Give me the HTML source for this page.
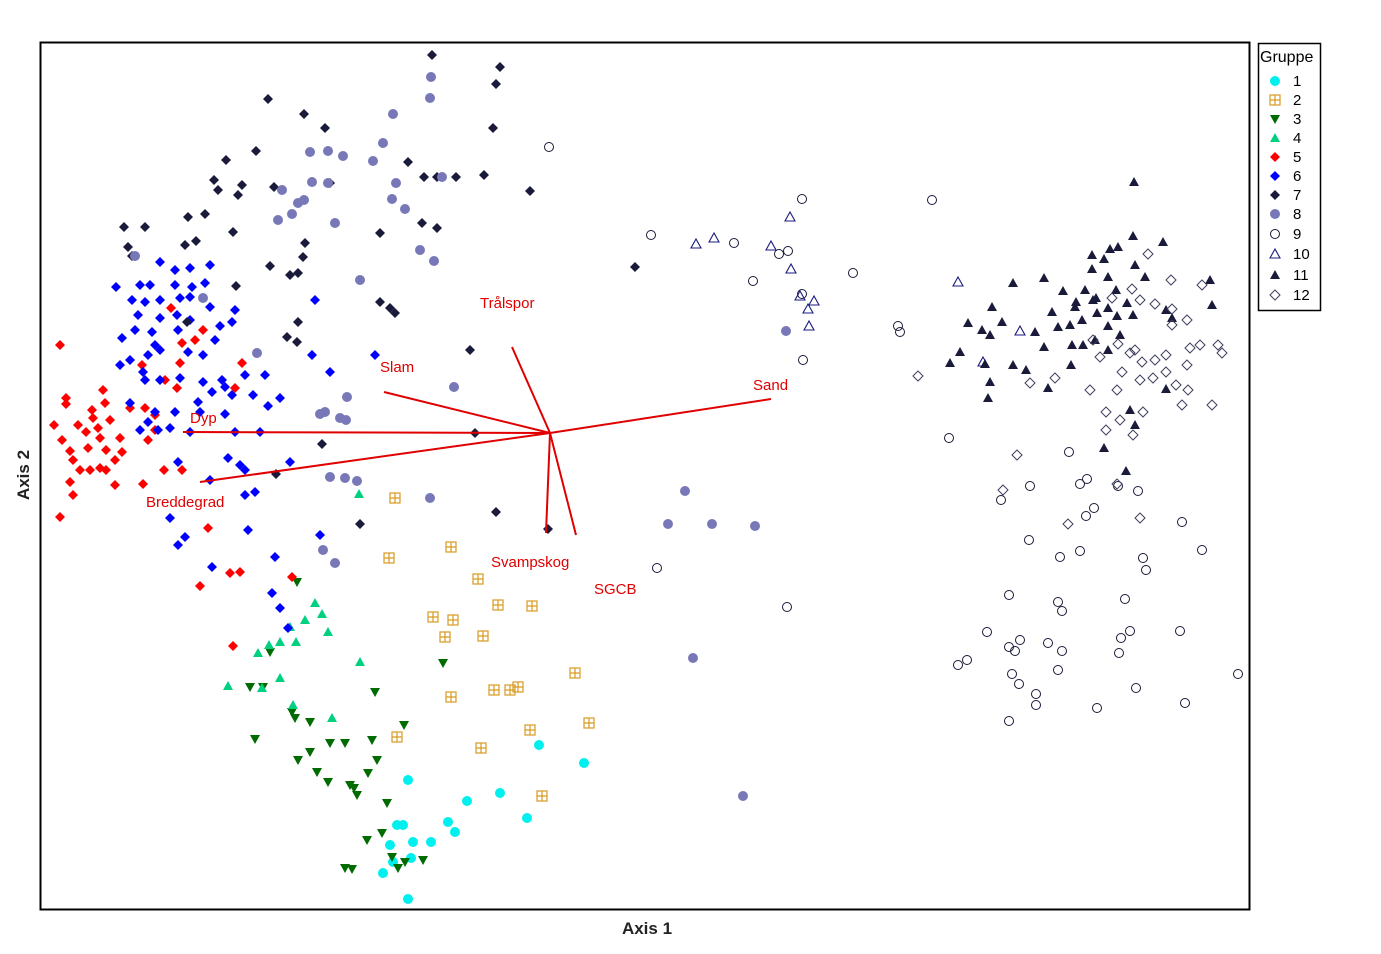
<!DOCTYPE html>
<html><head><meta charset="utf-8"><style>
html,body{margin:0;padding:0;background:#fff;}
svg{display:block;font-family:"Liberation Sans",Arial,sans-serif;}
</style></head><body>
<svg id="s" width="1381" height="954" xmlns="http://www.w3.org/2000/svg">
<rect x="0" y="0" width="1381" height="954" fill="#fff"/>
<rect x="40.5" y="42.5" width="1209" height="867" fill="none" stroke="#000" stroke-width="2"/>
<g id="pts"></g>
<g stroke="#e00000" stroke-width="2" fill="none">
<line x1="550" y1="433" x2="512" y2="347"/>
<line x1="550" y1="433" x2="384" y2="392"/>
<line x1="550" y1="433" x2="771" y2="399"/>
<line x1="550" y1="433" x2="183" y2="432"/>
<line x1="550" y1="433" x2="200" y2="482"/>
<line x1="550" y1="433" x2="546" y2="533"/>
<line x1="550" y1="433" x2="576" y2="535"/>
</g>
<g fill="#e00000" font-size="15">
<text x="480" y="308">Trålspor</text>
<text x="380" y="372">Slam</text>
<text x="753" y="390">Sand</text>
<text x="190" y="423">Dyp</text>
<text x="146" y="507">Breddegrad</text>
<text x="491" y="567">Svampskog</text>
<text x="594" y="594">SGCB</text>
</g>
<text x="647" y="934" font-size="17" font-weight="bold" text-anchor="middle" fill="#222">Axis 1</text>
<text x="0" y="0" font-size="17" font-weight="bold" text-anchor="middle" fill="#222" transform="translate(29,475) rotate(-90)">Axis 2</text>
<rect x="1258.5" y="43.5" width="62" height="267" fill="#fff" stroke="#000" stroke-width="1.5"/>
<text x="1260" y="62" font-size="16" fill="#000">Gruppe</text>
<g id="leg" font-size="15" fill="#000"></g>
</svg>
<script>
var G={
1:[[539,745],[584,763],[500,793],[467,801],[527,818],[448,822],[455,832],[431,842],[408,780],[397,825],[403,825],[413,842],[393,862],[411,858],[383,873],[408,899],[390,845]],
2:[[395,498],[451,547],[389,558],[478,579],[498,605],[532,606],[433,617],[453,620],[445,637],[483,636],[575,673],[451,697],[494,690],[510,690],[518,687],[589,723],[530,730],[397,737],[481,748],[542,796]],
3:[[297,582],[443,663],[270,652],[250,687],[263,687],[292,712],[295,718],[310,722],[375,692],[404,725],[255,739],[330,743],[345,743],[372,740],[310,752],[298,760],[317,772],[377,760],[368,773],[328,782],[350,785],[357,795],[354,788],[387,803],[367,840],[382,833],[392,857],[423,860],[405,862],[345,868],[352,869],[398,868]],
4:[[359,494],[315,603],[305,620],[322,614],[328,632],[290,627],[296,642],[269,645],[280,642],[258,653],[360,662],[228,686],[280,678],[262,688],[293,705],[332,718]],
5:[[60,345],[171,308],[203,330],[182,343],[195,340],[142,365],[180,363],[242,363],[66,398],[103,390],[66,404],[105,403],[92,410],[54,425],[78,425],[93,418],[98,428],[110,420],[86,432],[100,438],[62,440],[120,438],[122,452],[70,451],[88,448],[106,450],[115,460],[73,460],[100,468],[90,470],[106,470],[70,482],[80,470],[115,485],[143,484],[73,495],[60,517],[130,408],[145,408],[155,415],[165,380],[177,388],[182,470],[164,470],[235,388],[208,528],[240,572],[230,573],[200,586],[233,646],[292,577],[155,430],[148,440]],
6:[[210,265],[160,262],[175,270],[190,268],[140,285],[150,285],[175,285],[192,287],[205,283],[116,287],[132,300],[145,302],[160,300],[190,297],[180,298],[210,307],[235,310],[138,315],[160,318],[177,315],[190,320],[220,326],[232,322],[135,330],[152,332],[178,330],[215,340],[122,338],[155,345],[160,350],[148,355],[188,352],[203,355],[130,360],[120,365],[143,372],[160,380],[145,380],[180,378],[203,382],[222,380],[245,375],[265,375],[198,402],[225,387],[232,395],[212,392],[253,395],[268,406],[280,398],[130,403],[155,412],[148,422],[175,412],[200,412],[225,414],[170,428],[190,432],[235,432],[260,432],[140,430],[158,430],[178,462],[228,458],[240,465],[245,470],[290,462],[210,480],[245,495],[255,492],[170,518],[185,537],[178,545],[248,530],[212,567],[275,557],[272,593],[320,535],[315,300],[312,355],[330,372],[375,355],[280,608],[288,628]],
7:[[432,55],[500,67],[496,84],[268,99],[304,114],[325,128],[493,128],[256,151],[226,160],[408,162],[424,177],[437,177],[456,177],[484,175],[530,191],[330,183],[274,187],[214,180],[218,190],[242,185],[238,195],[188,217],[205,214],[124,227],[145,227],[233,232],[185,245],[196,241],[128,247],[132,256],[270,266],[290,275],[298,273],[380,233],[422,223],[437,228],[305,243],[303,257],[236,286],[187,322],[298,322],[287,337],[297,342],[380,302],[395,313],[390,308],[470,350],[635,267],[475,433],[322,444],[276,474],[360,524],[496,512],[548,529]],
8:[[431,77],[430,98],[393,114],[383,143],[373,161],[310,152],[328,151],[343,156],[312,182],[328,183],[396,183],[442,177],[282,190],[298,203],[292,214],[304,200],[278,220],[335,223],[392,199],[405,209],[420,250],[434,261],[360,280],[135,256],[203,298],[257,353],[454,387],[347,397],[325,412],[320,414],[340,418],[346,420],[330,477],[345,478],[357,481],[430,498],[685,491],[668,524],[712,524],[755,526],[323,550],[335,563],[786,331],[693,658],[743,796]],
9:[[549,147],[802,199],[932,200],[651,235],[734,243],[779,254],[788,251],[853,273],[753,281],[802,294],[898,326],[900,332],[803,360],[949,438],[1069,452],[1030,486],[1001,500],[1080,484],[1087,479],[1118,486],[1138,491],[1086,516],[1094,508],[1029,540],[1080,551],[1060,557],[1143,558],[1146,570],[1182,522],[1202,550],[657,568],[787,607],[1009,595],[1058,602],[1062,611],[1125,599],[987,632],[1020,640],[1009,647],[1015,651],[1048,643],[1062,651],[1121,638],[1130,631],[1119,653],[1180,631],[967,660],[958,665],[1012,674],[1019,684],[1058,670],[1036,694],[1036,705],[1136,688],[1185,703],[1097,708],[1009,721],[1238,674]],
10:[[790,217],[696,244],[714,238],[771,246],[791,269],[958,282],[800,296],[814,301],[808,309],[809,326],[983,362],[1020,331]],
11:[[1134,182],[1133,236],[1163,242],[1092,255],[1110,249],[1118,247],[1104,259],[1092,269],[1108,277],[1135,265],[1145,277],[1013,283],[1044,278],[1085,290],[1096,298],[1116,290],[1063,291],[1076,302],[1093,300],[1075,307],[1052,312],[1070,325],[1082,320],[1097,313],[1108,308],[1127,303],[1133,315],[1117,316],[1108,326],[992,307],[968,323],[982,330],[990,335],[1002,322],[1035,332],[1044,347],[1058,327],[1072,345],[1083,345],[1095,340],[1120,335],[1166,310],[1172,318],[1212,305],[1210,280],[950,363],[960,352],[985,364],[1013,365],[1026,370],[1071,365],[1108,350],[1166,389],[1130,410],[990,382],[988,398],[1048,388],[1135,425],[1104,448],[1126,471]],
12:[[1148,254],[1171,280],[1202,285],[1132,289],[1112,298],[1140,300],[1155,304],[1172,309],[1187,320],[1172,325],[1093,340],[1118,344],[1135,350],[1155,360],[1166,355],[1142,362],[1153,378],[1176,385],[1188,390],[1200,345],[1190,348],[1218,345],[1222,353],[1187,365],[1140,380],[1166,372],[1122,372],[1030,383],[1055,378],[1090,390],[1117,390],[1106,412],[1120,420],[1143,412],[1182,405],[1212,405],[1106,430],[1133,435],[918,376],[1017,455],[1003,490],[1068,524],[1117,484],[1140,518],[1130,353],[1100,357]]
};
function mk(g,x,y){
 var s='';
 switch(+g){
 case 1:s='<circle cx="'+x+'" cy="'+y+'" r="5" fill="#00f0f0"/>';break;
 case 2:s='<rect x="'+(x-5)+'" y="'+(y-5)+'" width="10" height="10" fill="none" stroke="#d99a20" stroke-width="1.2"/><path d="M'+x+' '+(y-5)+'V'+(y+5)+'M'+(x-5)+' '+y+'H'+(x+5)+'" stroke="#d99a20" stroke-width="1.2"/>';break;
 case 3:s='<polygon points="'+(x-5)+','+(y-4)+' '+(x+5)+','+(y-4)+' '+x+','+(y+5)+'" fill="#006b00"/>';break;
 case 4:s='<polygon points="'+(x-5)+','+(y+4)+' '+(x+5)+','+(y+4)+' '+x+','+(y-5)+'" fill="#00d080"/>';break;
 case 5:case 6:case 7:var c={5:'#ff0000',6:'#0000ff',7:'#1a1a3a'}[g];s='<polygon points="'+x+','+(y-5)+' '+(x+5)+','+y+' '+x+','+(y+5)+' '+(x-5)+','+y+'" fill="'+c+'"/>';break;
 case 8:s='<circle cx="'+x+'" cy="'+y+'" r="5" fill="#7878b8"/>';break;
 case 9:s='<circle cx="'+x+'" cy="'+y+'" r="4.5" fill="none" stroke="#1a1a3a" stroke-width="1"/>';break;
 case 10:s='<polygon points="'+(x-5)+','+(y+4)+' '+(x+5)+','+(y+4)+' '+x+','+(y-5)+'" fill="none" stroke="#1a1a80" stroke-width="1.1"/>';break;
 case 11:s='<polygon points="'+(x-5)+','+(y+4)+' '+(x+5)+','+(y+4)+' '+x+','+(y-5)+'" fill="#1a1a3a"/>';break;
 case 12:s='<polygon points="'+x+','+(y-5)+' '+(x+5)+','+y+' '+x+','+(y+5)+' '+(x-5)+','+y+'" fill="none" stroke="#404060" stroke-width="1"/>';break;
 }
 return s;
}
var h='';
for(var g in G){G[g].forEach(function(p){h+=mk(g,p[0],p[1]);});}
document.getElementById('pts').innerHTML=h;
var ly=[81,100,119,138,157,176,195,214,234,254,275,295],l='';
for(var i=0;i<12;i++){l+=mk(i+1,1275,ly[i])+'<text x="1293" y="'+(ly[i]+5)+'">'+(i+1)+'</text>';}
document.getElementById('leg').innerHTML=l;
</script>
</body></html>
